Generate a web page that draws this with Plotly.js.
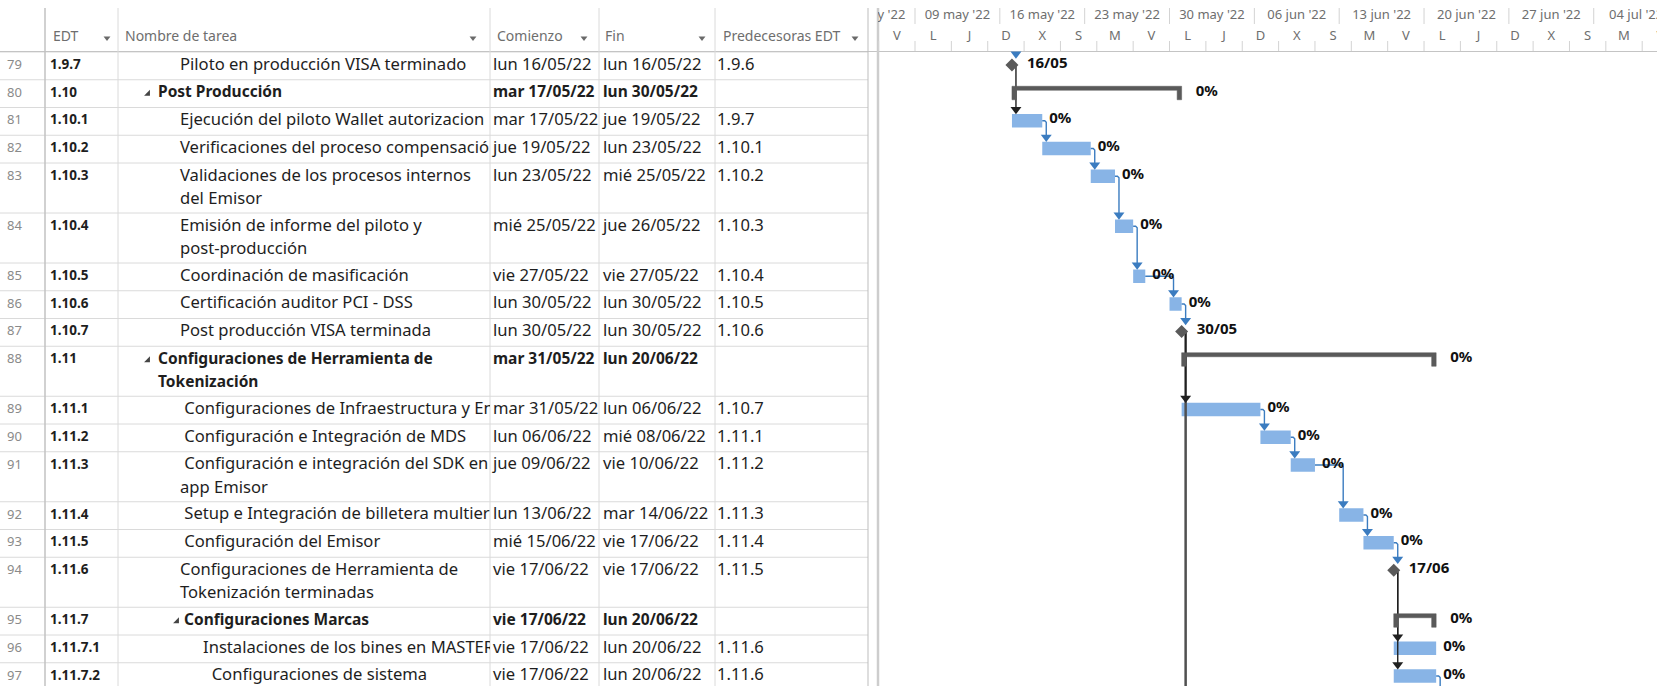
<!DOCTYPE html>
<html><head><meta charset="utf-8">
<script src="https://cdn.plot.ly/plotly-3.0.1.min.js"></script>
<style>html,body{margin:0;padding:0;background:#fff;overflow:hidden}</style>
</head><body><div id="chart" style="width:1667px;height:686px"></div>
<script>
// ---------------- DATA ----------------
const rowIds = [79,80,81,82,83,84,85,86,87,88,89,90,91,92,93,94,95,96,97];
const edtCodes = ["1.9.7","1.10","1.10.1","1.10.2","1.10.3","1.10.4","1.10.5","1.10.6","1.10.7","1.11","1.11.1","1.11.2","1.11.3","1.11.4","1.11.5","1.11.6","1.11.7","1.11.7.1","1.11.7.2"];
const taskNames = [
 "Piloto en producción VISA terminado",
 "Post Producción",
 "Ejecución del piloto Wallet autorizacion",
 "Verificaciones del proceso compensació",
 "Validaciones de los procesos internos\ndel Emisor",
 "Emisión de informe del piloto y\npost-producción",
 "Coordinación de masificación",
 "Certificación auditor PCI - DSS",
 "Post producción VISA terminada",
 "Configuraciones de Herramienta de\nTokenización",
 "\u00a0Configuraciones de Infraestructura y En",
 "\u00a0Configuración e Integración de MDS",
 "\u00a0Configuración e integración del SDK en\napp Emisor",
 "\u00a0Setup e Integración de billetera multier",
 "\u00a0Configuración del Emisor",
 "Configuraciones de Herramienta de\nTokenización terminadas",
 "Configuraciones Marcas",
 "Instalaciones de los bines en MASTER",
 "\u00a0\u00a0Configuraciones de sistema"
];
const outlineLevel = [3,2,3,3,3,3,3,3,3,2,3,3,3,3,3,3,3,4,4];
const taskKind = ["milestone","summary","task","task","task","task","task","task","milestone","summary","task","task","task","task","task","milestone","summary","task","task"];
const startText = ["lun 16/05/22","mar 17/05/22","mar 17/05/22","jue 19/05/22","lun 23/05/22","mié 25/05/22","vie 27/05/22","lun 30/05/22","lun 30/05/22","mar 31/05/22","mar 31/05/22","lun 06/06/22","jue 09/06/22","lun 13/06/22","mié 15/06/22","vie 17/06/22","vie 17/06/22","vie 17/06/22","vie 17/06/22"];
const finishText = ["lun 16/05/22","lun 30/05/22","jue 19/05/22","lun 23/05/22","mié 25/05/22","jue 26/05/22","vie 27/05/22","lun 30/05/22","lun 30/05/22","lun 20/06/22","lun 06/06/22","mié 08/06/22","vie 10/06/22","mar 14/06/22","vie 17/06/22","vie 17/06/22","lun 20/06/22","lun 20/06/22","lun 20/06/22"];
const predText = ["1.9.6","","1.9.7","1.10.1","1.10.2","1.10.3","1.10.4","1.10.5","1.10.6","","1.10.7","1.11.1","1.11.2","1.11.3","1.11.4","1.11.5","","1.11.6","1.11.6"];
const percentComplete = [0,0,0,0,0,0,0,0,0,0,0,0,0,0,0,0,0,0,0];
const barStart = ["2022-05-16 23:59","2022-05-17 00:00","2022-05-17 00:00","2022-05-19 12:00","2022-05-23 12:00","2022-05-25 12:00","2022-05-27 00:00","2022-05-30 00:00","2022-05-30 23:59","2022-05-31 00:00","2022-05-31 00:00","2022-06-06 12:00","2022-06-09 00:00","2022-06-13 00:00","2022-06-15 00:00","2022-06-17 12:00","2022-06-17 12:00","2022-06-17 12:00","2022-06-17 12:00"];
const barFinish = ["2022-05-16 23:59","2022-05-31 00:00","2022-05-19 12:00","2022-05-23 12:00","2022-05-25 12:00","2022-05-27 00:00","2022-05-28 00:00","2022-05-31 00:00","2022-05-30 23:59","2022-06-21 00:00","2022-06-06 12:00","2022-06-09 00:00","2022-06-11 00:00","2022-06-15 00:00","2022-06-17 12:00","2022-06-17 12:00","2022-06-21 00:00","2022-06-21 00:00","2022-06-21 00:00"];
// links that leave the visible rows (successor below the view)
const linksOutBelow = ["1.10.7","1.11.7.2"];
// column headers
const headerLabels = ["EDT","Nombre de tarea","Comienzo","Fin","Predecesoras EDT"];
// timescale
const weekStarts = ["2022-05-02","2022-05-09","2022-05-16","2022-05-23","2022-05-30","2022-06-06","2022-06-13","2022-06-20","2022-06-27","2022-07-04"];
const weekLabels = ["02 may '22","09 may '22","16 may '22","23 may '22","30 may '22","06 jun '22","13 jun '22","20 jun '22","27 jun '22","04 jul '22"];
const dayStarts = ["2022-05-06","2022-05-09","2022-05-12","2022-05-15","2022-05-18","2022-05-21","2022-05-24","2022-05-27","2022-05-30","2022-06-02","2022-06-05","2022-06-08","2022-06-11","2022-06-14","2022-06-17","2022-06-20","2022-06-23","2022-06-26","2022-06-29","2022-07-02","2022-07-05","2022-07-08"];
const dayLetters = ["V","L","J","D","X","S","M","V","L","J","D","X","S","M","V","L","J","D","X","S","M","V"];

// ---------------- LAYOUT CONSTANTS ----------------
const W = 1667, H = 686;
const FONT = '"Noto Sans", "Open Sans", sans-serif';
const COLS = [0,45,118,490,599,715,868];
const HEADER_BOTTOM = 52;
const GANTT_L = 878, GANTT_R = 1657;
const PX_PER_DAY = 12.12;
const DAY = 86400000;
const REG_SIZE = 16.6, BOLD_SIZE = 15.5;
function toMs(s){const p=s.split(' ');const d=p[0].split('-').map(Number);let h=0,m=0;if(p[1]){const t=p[1].split(':').map(Number);h=t[0];m=t[1];}return Date.UTC(d[0],d[1]-1,d[2],h,m);}
const pxToMs = px => px / PX_PER_DAY * DAY;
const ANCHOR_MS = toMs("2022-05-09"), ANCHOR_PX = 915;
const xRange = [ANCHOR_MS - pxToMs(ANCHOR_PX - GANTT_L), ANCHOR_MS + pxToMs(GANTT_R - ANCHOR_PX)];

const TXT = '#1e1e1e', GRAY_TXT = '#6e6e6e', GRID = '#dadada';
const BAR = '#88b4e6', LINK = '#3b7cc0', SUMM = '#5a5a5a', BLACK = '#202020';

// row geometry
const nLines = taskNames.map(n => n.split('\n').length);
const rowTop = []; let yy = HEADER_BOTTOM;
nLines.forEach(n => { rowTop.push(yy); yy += 5.5 + 22.25 * n; });
const rowBottomEnd = yy;
const msS = barStart.map(toMs), msF = barFinish.map(toMs);
const idxByEdt = {}; edtCodes.forEach((e,i)=>idxByEdt[e]=i);

const traces = [];
function textTrace(xa, xs, ys, texts, size, color, weight, pos){
  return {type:'scatter', mode:'text', xaxis:xa, yaxis:'y', x:xs, y:ys, text:texts,
    textposition: pos || 'middle right', cliponaxis:true, hoverinfo:'skip', showlegend:false,
    textfont:{family:FONT, size:size, color:color, weight:weight||'normal'}};
}
const isSum = i => taskKind[i] === 'summary';

// ---------------- TABLE ----------------
const hdrX = [COLS[1]+8, COLS[2]+7, COLS[3]+7, COLS[4]+6, COLS[5]+8];
traces.push(textTrace('x8', hdrX, hdrX.map(()=>37), headerLabels, 14, GRAY_TXT));
const arrowX = [COLS[2]-11, COLS[3]-17, COLS[4]-15, COLS[5]-13, COLS[6]-13];
traces.push({type:'scatter', mode:'markers', xaxis:'x8', yaxis:'y', x:arrowX, y:arrowX.map(()=>38),
  marker:{symbol:'triangle-down', size:6, color:'#6a6a6a'}, hoverinfo:'skip', cliponaxis:false});

traces.push(textTrace('x2', rowIds.map(()=>7), rowTop.map(t=>t+13.5), rowIds.map(String), 13, '#8a8a8a'));
traces.push(textTrace('x3', edtCodes.map(()=>COLS[1]+5), rowTop.map(t=>t+13.5), edtCodes, 13.5, TXT, 'bold'));
function nameX(i){
  const lv = outlineLevel[i];
  if (isSum(i)) return lv === 2 ? 158 : 184;
  return lv === 3 ? 180 : 203;
}
const nmReg = {x:[],y:[],t:[]}, nmBold = {x:[],y:[],t:[]};
taskNames.forEach((n,i)=>{
  n.split('\n').forEach((ln,k)=>{
    const tgt = isSum(i) ? nmBold : nmReg;
    tgt.x.push(k===0 ? nameX(i) : (isSum(i) ? nameX(i) : (outlineLevel[i]===3?180:203)));
    tgt.y.push(rowTop[i] + 13.5 + 23.5*k); tgt.t.push(ln);
  });
});
traces.push(textTrace('x4', nmReg.x, nmReg.y, nmReg.t, REG_SIZE, TXT));
traces.push(textTrace('x4', nmBold.x, nmBold.y, nmBold.t, BOLD_SIZE, TXT, 'bold'));
const sumIdx = taskKind.map((k,i)=>k==='summary'?i:-1).filter(i=>i>=0);
traces.push({type:'scatter', mode:'markers', xaxis:'x8', yaxis:'y',
  x: sumIdx.map(i=>nameX(i)-(outlineLevel[i]===2?10:7)), y: sumIdx.map(i=>rowTop[i]+14),
  marker:{symbol:'triangle-se', size:6.5, color:'#454545'}, hoverinfo:'skip'});
const regIdx = rowIds.map((_,i)=>i).filter(i=>!isSum(i));
[['x5', COLS[3]+3, startText], ['x6', COLS[4]+4, finishText]].forEach(([xa, x0, arr])=>{
  traces.push(textTrace(xa, regIdx.map(()=>x0), regIdx.map(i=>rowTop[i]+13.5), regIdx.map(i=>arr[i]), REG_SIZE, TXT));
  traces.push(textTrace(xa, sumIdx.map(()=>x0), sumIdx.map(i=>rowTop[i]+13.5), sumIdx.map(i=>arr[i]), BOLD_SIZE, TXT, 'bold'));
});
traces.push(textTrace('x7', predText.map(()=>COLS[5]+2), rowTop.map(t=>t+13.5), predText, REG_SIZE, TXT));

// ---------------- GANTT HEADER ----------------
const wkMs = weekStarts.map(toMs), dyMs = dayStarts.map(toMs);
traces.push(textTrace('x', wkMs.map(m=>m+3.5*DAY), wkMs.map(()=>16), weekLabels, 13, GRAY_TXT, 'normal', 'middle center'));
traces.push(textTrace('x', dyMs.map(m=>m+1.5*DAY), dyMs.map(()=>37), dayLetters, 13, GRAY_TXT, 'normal', 'middle center'));
const sepX = [], sepY = [];
wkMs.forEach(m=>{sepX.push(m,m,null); sepY.push(8,24,null);});
dyMs.forEach(m=>{sepX.push(m,m,null); sepY.push(41,51,null);});
traces.push({type:'scatter', mode:'lines', xaxis:'x', yaxis:'y', x:sepX, y:sepY,
  line:{color:'#d3d3d3', width:1}, hoverinfo:'skip', cliponaxis:true});

// ---------------- LINKS ----------------
const lk = {blue:{x:[],y:[],ax:[],ay:[]}, black:{x:[],y:[],ax:[],ay:[]}};
const OFF = pxToMs(4);
const barCenter = i => rowTop[i] + 13.25;
const barTopY = i => rowTop[i] + 6.5;
const predEnd = p => msF[p];
predText.forEach((pt,s)=>{
  if (!pt) return;
  const p = idxByEdt[pt];
  if (p === undefined) {
    const xv = msS[s] + OFF;
    const L = lk.blue; L.x.push(xv,xv,null); L.y.push(HEADER_BOTTOM, barTopY(s)-5, null);
    L.ax.push(xv); L.ay.push(barTopY(s)-4.5); return;
  }
  const L = taskKind[p]==='milestone' ? lk.black : lk.blue;
  const xv = Math.max(predEnd(p), msS[s]) + OFF;
  L.x.push(predEnd(p), xv - pxToMs(1.5), xv, xv, null);
  L.y.push(barCenter(p), barCenter(p), barCenter(p)+1.5, barTopY(s)-5, null);
  L.ax.push(xv); L.ay.push(barTopY(s)-4.5);
});
const outDark = {x:[],y:[]};
linksOutBelow.forEach(e=>{
  const p = idxByEdt[e];
  const xv = predEnd(p) + OFF;
  if (taskKind[p]==='milestone') { outDark.x.push(predEnd(p), xv, xv, null); outDark.y.push(barCenter(p), barCenter(p), H+20, null); }
  else { const L = lk.blue; L.x.push(predEnd(p), xv - pxToMs(1.5), xv, xv, null); L.y.push(barCenter(p), barCenter(p), barCenter(p)+1.5, H+20, null); }
});
traces.push({type:'scatter', mode:'lines', xaxis:'x', yaxis:'y', x:outDark.x, y:outDark.y, line:{color:'#505050', width:2.5}, hoverinfo:'skip'});
[['blue',LINK],['black',BLACK]].forEach(([k,c])=>{
  traces.push({type:'scatter', mode:'lines', xaxis:'x', yaxis:'y', x:lk[k].x, y:lk[k].y, line:{color:c, width:1.4}, hoverinfo:'skip'});
  traces.push({type:'scatter', mode:'markers', xaxis:'x', yaxis:'y', x:lk[k].ax, y:lk[k].ay, marker:{symbol:'triangle-down', size:9.5, color:c}, hoverinfo:'skip'});
});

// ---------------- BARS ----------------
const tIdx = taskKind.map((k,i)=>k==='task'?i:-1).filter(i=>i>=0);
traces.push({type:'bar', orientation:'h', xaxis:'x', yaxis:'y',
  base: tIdx.map(i=>msS[i]), x: tIdx.map(i=>msF[i]-msS[i]), y: tIdx.map(i=>barCenter(i)),
  width: 13.5, marker:{color:BAR, line:{width:0}}, hoverinfo:'skip'});
const sx = [], sy = [];
const LEG = pxToMs(4.5);
sumIdx.forEach(i=>{
  const a = msS[i], b = msF[i], t = rowTop[i];
  sx.push(a, b, b, b-LEG, b-LEG, a+LEG, a+LEG, a, a, null);
  sy.push(t+6.5, t+6.5, t+20, t+20, t+10.5, t+10.5, t+20, t+20, t+6.5, null);
});
traces.push({type:'scatter', mode:'lines', xaxis:'x', yaxis:'y', x:sx, y:sy, fill:'toself', fillcolor:SUMM, line:{color:SUMM, width:0.5}, hoverinfo:'skip'});
const mIdx = taskKind.map((k,i)=>k==='milestone'?i:-1).filter(i=>i>=0);
traces.push({type:'scatter', mode:'markers', xaxis:'x', yaxis:'y', x:mIdx.map(i=>msS[i]), y:mIdx.map(i=>rowTop[i]+13),
  marker:{symbol:'diamond', size:10, color:SUMM}, hoverinfo:'skip'});

// ---------------- BAR LABELS ----------------
const lbX = [], lbY = [], lbT = [];
rowIds.forEach((_,i)=>{
  const k = taskKind[i];
  if (k==='milestone') {
    const d = new Date(msS[i]);
    lbX.push(msS[i] + pxToMs(15));
    lbT.push(String(d.getUTCDate()).padStart(2,'0') + '/' + String(d.getUTCMonth()+1).padStart(2,'0'));
  } else {
    lbX.push(msF[i] + pxToMs(k==='summary' ? 14 : 7));
    lbT.push(percentComplete[i] + '%');
  }
  lbY.push(rowTop[i] + 12);
});
traces.push(textTrace('x', lbX, lbY, lbT, 15, '#111', 'bold'));

// ---------------- SHAPES (grid) ----------------
const shapes = [];
rowTop.concat([rowBottomEnd]).forEach(t=>{
  shapes.push({type:'line', xref:'paper', yref:'y', x0:0, x1:COLS[6]/W, y0:t, y1:t, line:{color:GRID, width:1}, layer:'below'});
});
shapes.push({type:'line', xref:'paper', yref:'y', x0:0, x1:GANTT_R/W, y0:HEADER_BOTTOM-0.5, y1:HEADER_BOTTOM-0.5, line:{color:'#c4c4c4', width:1}, layer:'below'});
[COLS[1],COLS[2],COLS[3],COLS[4],COLS[5]].forEach((x,j)=>{
  shapes.push({type:'line', xref:'paper', yref:'y', x0:x/W, x1:x/W, y0:8, y1:H, line:{color: j===0?'#c2c2c2':GRID, width: j===0?1.5:1}, layer:'below'});
});
shapes.push({type:'line', xref:'paper', yref:'y', x0:COLS[6]/W, x1:COLS[6]/W, y0:8, y1:H, line:{color:'#bdbdbd', width:1}, layer:'below'});
shapes.push({type:'line', xref:'paper', yref:'y', x0:GANTT_L/W, x1:GANTT_L/W, y0:8, y1:H, line:{color:'#cdcdcd', width:2.5}, layer:'below'});

// ---------------- AXES ----------------
const hidden = {visible:false, showgrid:false, zeroline:false, fixedrange:true};
const layout = {width:W, height:H, margin:{l:0,r:0,t:0,b:0,pad:0}, paper_bgcolor:'#ffffff', plot_bgcolor:'rgba(0,0,0,0)',
  showlegend:false, hovermode:false, barmode:'overlay', shapes:shapes,
  yaxis: Object.assign({range:[H,0], domain:[0,1], anchor:'x'}, hidden),
  xaxis: Object.assign({type:'date', range:xRange, domain:[GANTT_L/W, GANTT_R/W], anchor:'y'}, hidden),
  xaxis8: Object.assign({range:[0, COLS[6]], domain:[0, COLS[6]/W], anchor:'y'}, hidden)
};
for (let c=0;c<6;c++){
  layout['xaxis'+(c+2)] = Object.assign({range:[COLS[c], COLS[c+1]], domain:[COLS[c]/W, COLS[c+1]/W], anchor:'y'}, hidden);
}
Plotly.newPlot('chart', traces, layout, {staticPlot:true, displayModeBar:false});
</script></body></html>
